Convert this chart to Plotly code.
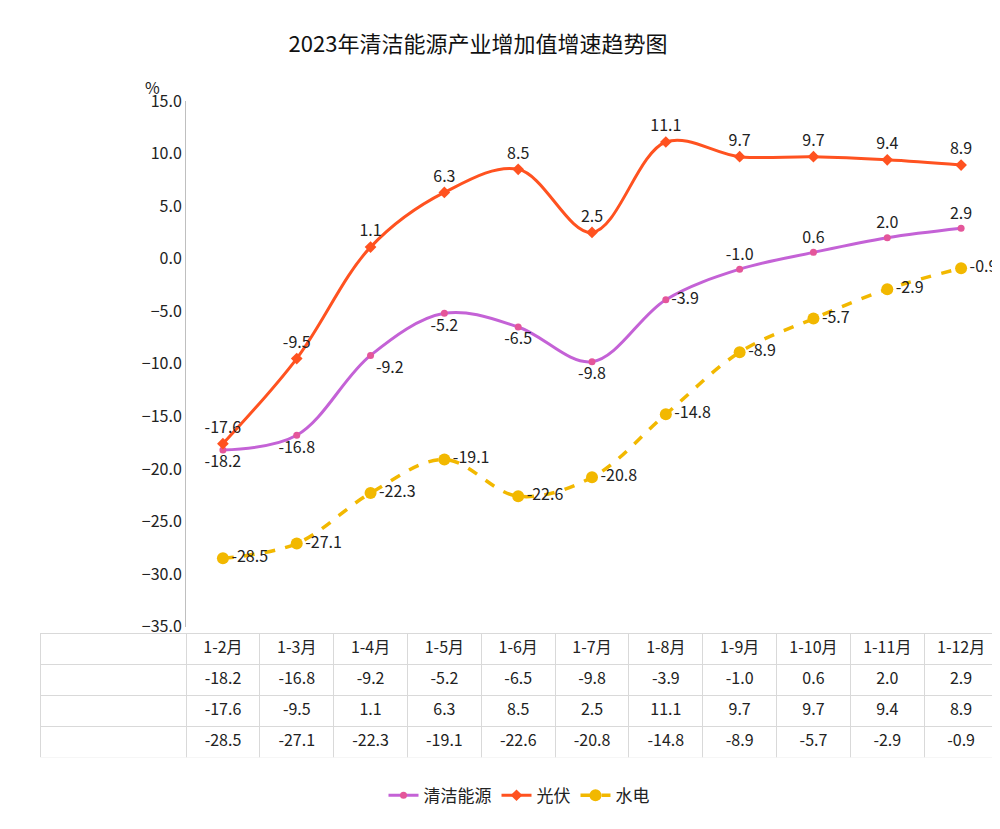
import plotly.graph_objects as go

months = ["1-2月", "1-3月", "1-4月", "1-5月", "1-6月", "1-7月", "1-8月", "1-9月", "1-10月", "1-11月", "1-12月"]
clean = [-18.2, -16.8, -9.2, -5.2, -6.5, -9.8, -3.9, -1.0, 0.6, 2.0, 2.9]
solar = [-17.6, -9.5, 1.1, 6.3, 8.5, 2.5, 11.1, 9.7, 9.7, 9.4, 8.9]
hydro = [-28.5, -27.1, -22.3, -19.1, -22.6, -20.8, -14.8, -8.9, -5.7, -2.9, -0.9]
series_names = ["清洁能源", "光伏", "水电"]

FONT = "Noto Sans CJK SC"
C_CLEAN = "#c462d6"
C_CLEAN_M = "#e4569a"
C_SOLAR = "#ff5220"
C_HYDRO = "#f2b800"
ROW_H = 31
TBL_TOP = 0.19

fig = go.Figure()
fig.add_trace(go.Scatter(
    x=months, y=clean, name="清洁能源", mode="lines+markers+text",
    line=dict(color=C_CLEAN, width=3, shape="spline"),
    marker=dict(color=C_CLEAN_M, size=7, symbol="circle"),
    text=[f"{v:.1f}" for v in clean],
    textposition=["bottom center", "bottom center", "bottom right", "bottom center", "bottom center",
                  "bottom center", "middle right", "top center", "top center", "top center", "top center"],
    textfont=dict(size=16, color="#222"),
))
fig.add_trace(go.Scatter(
    x=months, y=solar, name="光伏", mode="lines+markers+text",
    line=dict(color=C_SOLAR, width=3, shape="spline"),
    marker=dict(color=C_SOLAR, size=9, symbol="diamond"),
    text=[f"{v:.1f}" for v in solar],
    textposition="top center",
    textfont=dict(size=16, color="#222"),
))
fig.add_trace(go.Scatter(
    x=months, y=hydro, name="水电", mode="lines+markers+text",
    line=dict(color=C_HYDRO, width=3.5, dash="dash", shape="spline"),
    marker=dict(color=C_HYDRO, size=12, symbol="circle"),
    text=[f"{v:.1f}" for v in hydro],
    textposition="middle right",
    textfont=dict(size=16, color="#222"),
))

def fmt(v):
    return f"{v:.1f}"

cols = [["", "", ""]] + [[fmt(clean[i]), fmt(solar[i]), fmt(hydro[i])] for i in range(len(months))]
fig.add_trace(go.Table(
    domain=dict(x=[0, 1], y=[0, TBL_TOP]),
    columnwidth=[146] + [73.8] * len(months),
    header=dict(values=[""] + months, height=ROW_H, align="center",
                fill_color="white", line_color="#d9d9d9",
                font=dict(size=16, color="#222", family=FONT)),
    cells=dict(values=cols, height=ROW_H, align="center",
               fill_color="white", line_color="#d9d9d9",
               font=dict(size=16, color="#222", family=FONT)),
))

# row glyphs and labels in the table's first column
glyphs = [
    (C_CLEAN, C_CLEAN_M, "circle", 8, "solid"),
    (C_SOLAR, C_SOLAR, "diamond", 10, "solid"),
    (C_HYDRO, C_HYDRO, "circle", 13, "dash"),
]
for r, (name, (lc, mc, sym, ms, dash)) in enumerate(zip(series_names, glyphs)):
    yrow = r + 1.5
    fig.add_trace(go.Scatter(
        x=[8, 48], y=[yrow, yrow], mode="lines+markers", xaxis="x2", yaxis="y2",
        line=dict(color=lc, width=3, dash=dash),
        marker=dict(color=mc, symbol=sym, size=[ms, 0]),
        showlegend=False, hoverinfo="skip",
    ))
    fig.add_trace(go.Scatter(
        x=[54], y=[yrow], mode="text", text=[name], textposition="middle right",
        textfont=dict(size=17, color="#222"), xaxis="x2", yaxis="y2",
        showlegend=False, hoverinfo="skip",
    ))

tbl_px = TBL_TOP * 657
fig.update_layout(
    width=1000, height=829,
    paper_bgcolor="white", plot_bgcolor="rgba(0,0,0,0)",
    margin=dict(l=32, r=10, t=93, b=79),
    font=dict(family=FONT, size=16, color="#222"),
    title=dict(text="2023年清洁能源产业增加值增速趋势图", x=0.47, xanchor="center", y=0.965,
               font=dict(size=22, color="#111")),
    xaxis=dict(domain=[146 / 958, 1], range=[-0.5, 10.5], showticklabels=False,
               showgrid=False, zeroline=False, showline=False),
    yaxis=dict(domain=[TBL_TOP + 0.01, 1], range=[-35, 15], dtick=5, tickformat=".1f",
               showgrid=False, zeroline=False, showline=True, linecolor="#bfbfbf",
               ticks="", tickfont=dict(size=16)),
    xaxis2=dict(domain=[0, 146 / 958], range=[0, 146], visible=False, anchor="y2"),
    yaxis2=dict(domain=[0, TBL_TOP], range=[tbl_px / ROW_H, 0], visible=False, anchor="x2"),
    showlegend=True,
    legend=dict(orientation="h", x=0.5, xanchor="center", y=-0.03, yanchor="top",
                font=dict(size=17)),
)
fig.add_annotation(xref="paper", yref="paper", x=146 / 958, y=1.0, text="%", showarrow=False,
                   xanchor="right", yanchor="bottom", xshift=-24, font=dict(size=16))

fig.write_html("out.html")
